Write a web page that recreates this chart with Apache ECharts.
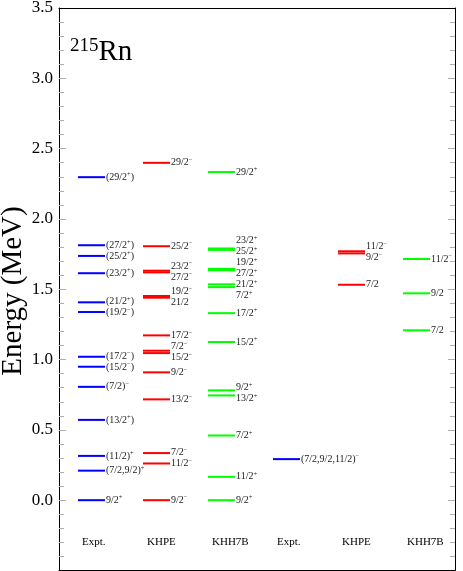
<!DOCTYPE html>
<html><head><meta charset="utf-8">
<script src="https://cdn.jsdelivr.net/npm/echarts@6/dist/echarts.min.js"></script>
<style>html,body{margin:0;padding:0;background:#fff}#c{width:463px;height:571px}</style>
</head><body><div id="c"></div>
<script>
// ---- data ----
const categories = ['Expt.', 'KHPE', 'KHH7B', 'Expt.', 'KHPE', 'KHH7B'];
const yTickLabels = ['0.0', '0.5', '1.0', '1.5', '2.0', '2.5', '3.0', '3.5'];

const exptA_E = [0, 0.21, 0.315, 0.571, 0.806, 0.949, 1.02, 1.338, 1.407, 1.614, 1.737, 1.813, 2.297];
const exptA_J = ['9/2⁺', '(7/2,9/2)⁺', '(11/2)⁺', '(13/2⁺)', '(7/2)⁻', '(15/2⁻)', '(17/2⁻)', '(19/2⁻)', '(21/2⁺)', '(23/2⁺)', '(25/2⁺)', '(27/2⁺)', '(29/2⁺)'];

const khpeA_E = [0, 0.261, 0.335, 0.717, 0.909, 1.046, 1.063, 1.172, 1.44, 1.452, 1.62, 1.632, 1.806, 2.399];
const khpeA_J = ['9/2⁻', '11/2⁻', '7/2⁻', '13/2⁻', '9/2⁻', '15/2⁻', '7/2⁻', '17/2⁻', '21/2', '19/2⁻', '27/2⁻', '23/2⁻', '25/2⁻', '29/2⁻'];

const khh7bA_E = [0, 0.166, 0.46, 0.745, 0.781, 1.125, 1.33, 1.515, 1.535, 1.635, 1.645, 1.78, 1.79, 2.334];
const khh7bA_J = ['9/2⁺', '11/2⁺', '7/2⁺', '13/2⁺', '9/2⁺', '15/2⁺', '17/2⁺', '7/2⁺', '21/2⁺', '27/2⁺', '19/2⁺', '25/2⁺', '23/2⁺', '29/2⁺'];

const exptB_E = [0.292];
const exptB_J = ['(7/2,9/2,11/2)⁻'];

const khpeB_E = [1.532, 1.755, 1.77];
const khpeB_J = ['7/2', '9/2⁻', '11/2⁻'];

const khh7bB_E = [1.208, 1.471, 1.715];
const khh7bB_J = ['7/2', '9/2', '11/2⁻'];

// ---- styling ----
const SERIF = '"Liberation Serif", "DejaVu Serif", serif';
const COLORS = ['#0000ff', '#ff0000', '#00ff00', '#0000ff', '#ff0000', '#00ff00'];
const HW = 0.2077;          // half level width (column units)
const GAP = 11 / 140.6;     // min label spacing (energy units)
const CAT_E = -0.3;         // where column names sit

function spread(E, gap) {
  const idx = E.map((e, i) => i).sort((a, b) => E[a] - E[b]);
  let groups = idx.map(i => ({ items: [i], c: E[i] }));
  let merged = true;
  while (merged) {
    merged = false;
    for (let g = 0; g < groups.length - 1; g++) {
      const a = groups[g], b = groups[g + 1];
      const aTop = a.c + (a.items.length - 1) / 2 * gap;
      const bBot = b.c - (b.items.length - 1) / 2 * gap;
      if (bBot - aTop < gap) {
        const items = a.items.concat(b.items);
        const c = items.reduce((s, i) => s + E[i], 0) / items.length;
        groups.splice(g, 2, { items, c });
        merged = true; break;
      }
    }
  }
  const out = new Array(E.length);
  groups.forEach(g => g.items.forEach((i, k) => { out[i] = g.c + (k - (g.items.length - 1) / 2) * gap; }));
  return out;
}

function richStr(s) {
  let out = '', buf = '';
  for (const ch of s) {
    if (ch === '⁺' || ch === '⁻') {
      if (buf) { out += '{n|' + buf + '}'; buf = ''; }
      out += '{s|' + (ch === '⁺' ? '+' : '−') + '}';
    } else buf += ch;
  }
  if (buf) out += '{n|' + buf + '}';
  return out;
}

const RICH = {
  n: { fontSize: 10, fontFamily: SERIF, fill: '#1a1a1a', lineHeight: 12 },
  s: { fontSize: 6.5, fontFamily: SERIF, fill: '#1a1a1a', verticalAlign: 'top', lineHeight: 7 }
};

function levelSeries(col, E, J) {
  const lab = spread(E, GAP);
  const color = COLORS[col];
  return {
    type: 'custom',
    xAxisIndex: 0, yAxisIndex: 0,
    data: E.map((e, i) => [col + 0.5, e, lab[i]]),
    renderItem(params, api) {
      const x = api.value(0), e = api.value(1), le = api.value(2);
      const p1 = api.coord([x - HW, e]), p2 = api.coord([x + HW, e]), pl = api.coord([x + HW, le]);
      return {
        type: 'group', children: [
          { type: 'line', shape: { x1: p1[0], y1: p1[1], x2: p2[0], y2: p2[1] }, style: { stroke: color, lineWidth: 2 } },
          { type: 'text', style: { text: richStr(J[params.dataIndex]), x: p2[0] + 1, y: pl[1], align: 'left', verticalAlign: 'middle', rich: RICH } }
        ]
      };
    }
  };
}

const catSeries = {
  type: 'custom',
  xAxisIndex: 0, yAxisIndex: 0,
  data: categories.map((c, i) => [i + 0.5, CAT_E]),
  renderItem(params, api) {
    const p = api.coord([api.value(0) - HW, api.value(1)]);
    return { type: 'text', style: { text: categories[params.dataIndex], x: p[0] + 4, y: p[1], align: 'left', verticalAlign: 'middle', font: '11px ' + SERIF, fill: '#000' } };
  }
};

const tickCommon = {
  min: -0.5, max: 3.5, interval: 0.5, type: 'value',
  axisLine: { show: true, onZero: false, lineStyle: { color: '#000', width: 1 } },
  axisTick: { show: true, inside: true, length: 7, lineStyle: { color: '#b0b0b0', width: 1 } },
  minorTick: { show: true, splitNumber: 5, length: 5, lineStyle: { color: '#b0b0b0', width: 1 } },
  splitLine: { show: false }, minorSplitLine: { show: false }
};
const xCommon = {
  type: 'value', min: 0, max: 396 / 65, z: 5,
  axisLine: { show: true, onZero: false, lineStyle: { color: '#000', width: 1 } },
  axisTick: { show: false }, axisLabel: { show: false }, splitLine: { show: false }
};

const chart = echarts.init(document.getElementById('c'), null, { renderer: 'canvas' });
chart.setOption({
  animation: false,
  backgroundColor: '#fff',
  grid: { left: 59, right: 8, top: 8, bottom: 0.5, containLabel: false, outerBoundsMode: 'none', show: false },
  xAxis: [
    Object.assign({}, xCommon, { position: 'bottom' }),
    Object.assign({}, xCommon, { position: 'top' })
  ],
  yAxis: [
    Object.assign({}, tickCommon, {
      position: 'left',
      axisLabel: { showMinLabel: false, formatter: v => yTickLabels[Math.round(v / 0.5)] || '', fontSize: 17, fontFamily: SERIF, color: '#000', margin: 6 }
    }),
    Object.assign({}, tickCommon, { position: 'right', axisLabel: { show: false } })
  ],
  graphic: [{
    type: 'text', left: 70, top: 37,
    style: {
      text: '{a|215}{b|Rn}',
      rich: {
        a: { fontSize: 19, fontFamily: SERIF, fill: '#000', verticalAlign: 'top', lineHeight: 19 },
        b: { fontSize: 29, fontFamily: SERIF, fill: '#000', lineHeight: 30 }
      }
    }
  }, {
    type: 'text', x: 13, y: 291, rotation: Math.PI / 2,
    style: { text: 'Energy (MeV)', align: 'center', verticalAlign: 'middle', font: '29px ' + SERIF, fill: '#000' }
  }],
  series: [
    levelSeries(0, exptA_E, exptA_J),
    levelSeries(1, khpeA_E, khpeA_J),
    levelSeries(2, khh7bA_E, khh7bA_J),
    levelSeries(3, exptB_E, exptB_J),
    levelSeries(4, khpeB_E, khpeB_J),
    levelSeries(5, khh7bB_E, khh7bB_J),
    catSeries
  ]
});
</script></body></html>
